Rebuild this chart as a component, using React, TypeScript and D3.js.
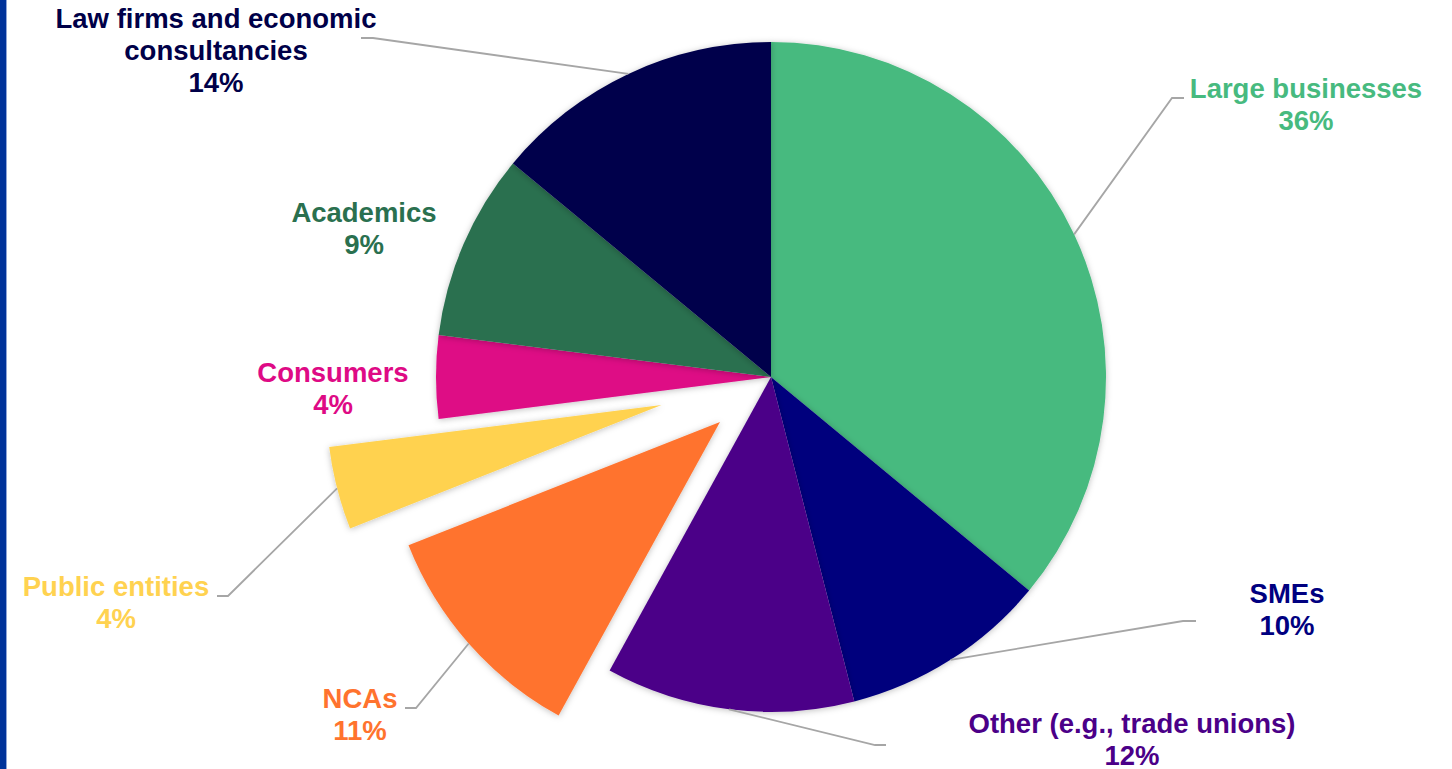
import React from "react";
import * as d3 from "d3";

const categories = [
  "Large businesses",
  "SMEs",
  "Other (e.g., trade unions)",
  "NCAs",
  "Public entities",
  "Consumers",
  "Academics",
  "Law firms and economic consultancies",
];
const values = [36, 10, 12, 11, 4, 4, 9, 14];
const colors = ["#47BA7F", "#00007D", "#4B0088", "#FF732E", "#FFD250", "#DE0A85", "#2A704F", "#00004B"];
const textColors = ["#47BA7F", "#000080", "#4B0088", "#FF732E", "#FFD250", "#DE0A85", "#2A704F", "#000048"];
const labelLines = [
  ["Large businesses"],
  ["SMEs"],
  ["Other (e.g., trade unions)"],
  ["NCAs"],
  ["Public entities"],
  ["Consumers"],
  ["Academics"],
  ["Law firms and economic", "consultancies"],
];

// layout (pixel) settings
const W = 1452, H = 769;
const CX = 771, CY = 377, R = 335;
const explode = [0, 0, 0, 68, 113, 0, 0, 0];
// label text center x, first baseline y
const labelPos: [number, number][] = [
  [1306, 98], [1287, 603], [1132, 733], [360, 708], [116, 596], [333, 382], [364, 222], [216, 28],
];
// leader line elbow points [elbowX, elbowY, endX] or null
const leaders: ([number, number, number] | null)[] = [
  [1172, 98, 1184], [1183, 621, 1196], [875, 745, 886], [416, 708, 405], [228, 596, 217], null, null, [373, 38, 361],
];

export default function App() {
  const pie = d3.pie<number>().sort(null).value((d) => d)(values);
  const arc = d3.arc<d3.PieArcDatum<number>>().innerRadius(0).outerRadius(R);
  const fs = 27.5;
  const lh = 32;
  return (
    <svg width={W} height={H} style={{ position: "absolute", left: 0, top: 0, background: "#fff" }}
      fontFamily="'Liberation Sans', Arial, sans-serif">
      <defs>
        <filter id="sh" x="-20%" y="-20%" width="140%" height="140%">
          <feDropShadow dx="0" dy="1" stdDeviation="3" floodColor="#000" floodOpacity="0.25" />
        </filter>
      </defs>
      <rect x={0} y={0} width={W} height={H} fill="#fff" />
      <rect x={0} y={0} width={6} height={H} fill="#00339A" />
      <rect x={6} y={0} width={1} height={H} fill="#8FA6D8" />
      {pie.map((p, i) => {
        const mid = (p.startAngle + p.endAngle) / 2;
        const dx = Math.sin(mid) * explode[i];
        const dy = -Math.cos(mid) * explode[i];
        return (
          <g key={"s" + i} transform={`translate(${CX + dx},${CY + dy})`} filter="url(#sh)">
            <path d={arc(p) || ""} fill={colors[i]} />
          </g>
        );
      })}
      {pie.map((p, i) => {
        const l = leaders[i];
        if (!l) return null;
        const mid = (p.startAngle + p.endAngle) / 2;
        const ox = CX + Math.sin(mid) * (explode[i] + R);
        const oy = CY - Math.cos(mid) * (explode[i] + R);
        return (
          <polyline key={"l" + i} points={`${ox},${oy} ${l[0]},${l[1]} ${l[2]},${l[1]}`}
            fill="none" stroke="#A6A6A6" strokeWidth={1.8} />
        );
      })}
      {categories.map((c, i) => {
        const [x, y] = labelPos[i];
        const lines = [...labelLines[i], `${values[i]}%`];
        return (
          <text key={"t" + i} x={x} y={y} textAnchor="middle" fontSize={fs} fontWeight="bold" fill={textColors[i]}>
            {lines.map((ln, k) => (
              <tspan key={k} x={x} y={y + k * lh}>{ln}</tspan>
            ))}
          </text>
        );
      })}
    </svg>
  );
}
